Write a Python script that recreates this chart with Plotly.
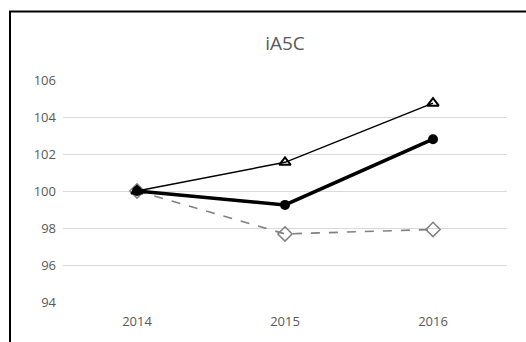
import plotly.graph_objects as go

years = ["2014", "2015", "2016"]
triangle_series = [100.0, 101.55, 104.75]
circle_series = [100.0, 99.25, 102.8]
diamond_series = [100.0, 97.68, 97.92]
y_ticks = [94, 96, 98, 100, 102, 104, 106]

W, H = 526, 342
ML, MR, MT, MB = 63, 19, 80, 38
pw, ph = W - ML - MR, H - MT - MB

def px_to_paper_x(px):
    return (px - ML) / pw

def py_to_paper_y(py):
    return (H - MB - py) / ph

fig = go.Figure()

fig.add_trace(go.Scatter(
    x=years, y=diamond_series, mode="lines+markers",
    line=dict(color="#808080", width=1.6, dash="dash"),
    marker=dict(symbol="diamond-open", size=11, color="#808080", line=dict(width=1.5)),
    showlegend=False,
))
fig.add_trace(go.Scatter(
    x=years, y=circle_series, mode="lines+markers",
    line=dict(color="black", width=3.5),
    marker=dict(symbol="circle", size=10, color="black"),
    showlegend=False,
))
fig.add_trace(go.Scatter(
    x=years, y=triangle_series, mode="lines+markers",
    line=dict(color="black", width=1.5),
    marker=dict(symbol="triangle-up-open", size=10, color="black", line=dict(width=2)),
    showlegend=False,
))

# outer chart frame: left and top edges only
frame = dict(color="black", width=2)
fig.add_shape(type="line", xref="paper", yref="paper", layer="below",
              x0=px_to_paper_x(10), x1=px_to_paper_x(10),
              y0=py_to_paper_y(400), y1=py_to_paper_y(11), line=frame)
fig.add_shape(type="line", xref="paper", yref="paper", layer="below",
              x0=px_to_paper_x(9), x1=px_to_paper_x(526),
              y0=py_to_paper_y(11), y1=py_to_paper_y(11), line=frame)

fig.update_layout(
    width=W, height=H,
    margin=dict(l=ML, r=MR, t=MT, b=MB),
    paper_bgcolor="white", plot_bgcolor="white",
    font=dict(family="Open Sans, Calibri, Arial", color="#595959", size=13),
    title=dict(
        text="iA5C", x=px_to_paper_x(285), xref="paper", xanchor="center",
        y=1 - 43 / H, yanchor="middle",
        font=dict(size=19, color="#595959"),
    ),
    xaxis=dict(
        type="category", range=[-0.5, 2.5], showgrid=False, zeroline=False,
        showline=False, ticks="", tickfont=dict(size=13, color="#595959"),
        ticklabelstandoff=10,
    ),
    yaxis=dict(
        range=[94, 106], tickvals=y_ticks, ticktext=[str(v) for v in y_ticks],
        showgrid=True, gridcolor="#d9d9d9", gridwidth=1, zeroline=False,
        showline=False, ticks="", tickfont=dict(size=13, color="#595959"),
        ticklabelstandoff=6,
    ),
)

fig.write_html("out.html")
